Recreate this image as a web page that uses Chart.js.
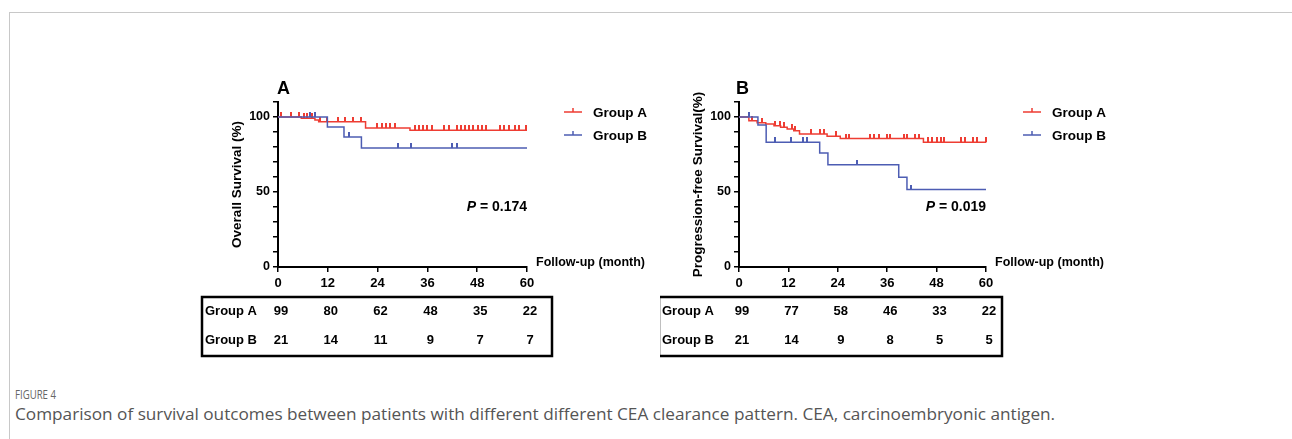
<!DOCTYPE html>
<html lang="en">
<head>
<meta charset="UTF-8" />
<title>Figure 4</title>
<script src="https://cdn.jsdelivr.net/npm/chart.js"></script>
<style>
  * { margin: 0; padding: 0; box-sizing: border-box; }
  body {
    width: 1292px; height: 439px; background: #fff;
    position: relative; overflow: hidden;
    font-family: "Liberation Sans", Arial, sans-serif;
  }
  .frame {
    position: absolute; left: 9px; top: 12px; right: 0; bottom: 0;
    border-top: 1px solid #c8c8c8; border-left: 1px solid #c8c8c8;
  }
  canvas.panel { position: absolute; top: 75px; }
  #panelA { left: 195px; }
  #panelB { left: 660px; }
  .fig-label {
    position: absolute; left: 15px; top: 385px;
    font-family: "Open Sans", sans-serif; font-size: 13px; color: #666;
    transform: scaleX(0.74); transform-origin: left top;
  }
  .caption {
    position: absolute; left: 15px; top: 402px;
    font-family: "Open Sans", sans-serif; font-size: 17.2px; color: #555;
    white-space: nowrap;
  }
</style>
</head>
<body>
<div class="frame"></div>
<canvas id="panelA" class="panel" width="465" height="295"></canvas>
<canvas id="panelB" class="panel" width="465" height="295"></canvas>
<div class="fig-label">FIGURE 4</div>
<div class="caption">Comparison of survival outcomes between patients with different different CEA clearance pattern. CEA, carcinoembryonic antigen.</div>

<script>
// follow-up ticks (months) used for axis and number-at-risk table
const months = [0, 12, 24, 36, 48, 60];
const groups = ["Group A", "Group B"];

// overall survival (panel A): step times and survival %
const osTimeA = [0, 5.6, 8.9, 9.8, 21.1, 31.8, 60];
const osSurvA = [100, 99.2, 98, 96.8, 92.7, 91.1, 91.1];
const osTimeB = [0, 11.9, 15.9, 20.1, 60];
const osSurvB = [100, 93.3, 86.7, 79.3, 79.3];
const osCensorA = [0.8, 3.1, 5.0, 6.2, 7.0, 8.1, 10.1, 11.7, 14.5, 16.1, 18.1, 20.1,
  23.8, 25.0, 26.0, 27.1, 28.2, 32.9, 34.0, 35.0, 36.0, 37.1, 40.0, 41.1, 43.1, 44.0,
  45.1, 46.1, 47.1, 48.1, 49.1, 50.1, 53.5, 54.5, 55.6, 57.2, 58.1, 59.8];
const osCensorB = [7.8, 9.0, 17.1, 29.0, 32.0, 42.0, 43.1];
const osRiskA = [99, 80, 62, 48, 35, 22];
const osRiskB = [21, 14, 11, 9, 7, 7];

// progression-free survival (panel B)
const pfsTimeA = [0, 2.4, 4.4, 6.5, 8.5, 10.1, 11.7, 13.3, 14.7, 21.4, 24.6, 44.8, 60];
const pfsSurvA = [100, 97.5, 96.2, 95.3, 94.2, 93.1, 92, 90.9, 88.7, 87.1, 85.6, 83.1, 83.1];
const pfsTimeB = [0, 4.6, 6.6, 19.6, 21.6, 38.8, 40.8, 60];
const pfsSurvB = [100, 94.7, 83.1, 76, 68.2, 59.8, 51.6, 51.6];
const pfsCensorA = [3.2, 5.7, 8.7, 9.9, 10.9, 12.8, 13.7, 17.5, 19.6, 20.6, 23.5, 26.0,
  26.8, 31.9, 32.7, 33.9, 35.9, 36.8, 40.0, 40.8, 42.8, 43.8, 46.0, 47.0, 48.1, 49.0,
  49.9, 53.9, 54.9, 56.9, 57.9, 60];
const pfsCensorB = [2.4, 8.7, 12.7, 15.6, 16.6, 28.7, 41.8];
const pfsRiskA = [99, 77, 58, 46, 33, 22];
const pfsRiskB = [21, 14, 9, 8, 5, 5];

const RED = "#ee3d33";
const BLUE = "#4d5db3";
const FONT = '"Liberation Sans", Arial, sans-serif';

function toXY(times, surv) {
  return times.map((t, i) => ({ x: t, y: surv[i] }));
}

// survival value at time t
function censorPoints(cens, times, surv) {
  return cens.map(t => {
    let y = surv[0];
    for (let i = 0; i < times.length; i++) if (times[i] <= t) y = surv[i];
    return { x: t, y: y };
  });
}

function tickMark(color) {
  const c = document.createElement("canvas");
  c.width = 2; c.height = 10;
  const g = c.getContext("2d");
  g.fillStyle = color;
  g.fillRect(0, 0, 2, 5);
  return c;
}

function extras(cfg) {
  return {
    id: "panelExtras",
    afterDraw(chart) {
      const ctx = chart.ctx;
      const a = chart.chartArea;
      const xs = chart.scales.x;
      ctx.save();
      ctx.fillStyle = "#000";
      ctx.textBaseline = "middle";

      // panel letter
      ctx.textAlign = "left";
      ctx.font = "bold 18px " + FONT;
      ctx.fillText(cfg.letter, a.left + cfg.letterDx, a.top - 13);

      // legend
      [RED, BLUE].forEach((col, i) => {
        const y = a.top + 10 + i * 23;
        ctx.strokeStyle = col;
        ctx.lineWidth = 1.5;
        ctx.beginPath();
        ctx.moveTo(a.right + 37, y); ctx.lineTo(a.right + 55, y);
        ctx.moveTo(a.right + 46, y); ctx.lineTo(a.right + 46, y - 4);
        ctx.stroke();
        ctx.font = "bold 13.5px " + FONT;
        ctx.fillText(groups[i], a.right + 66, y + 1);
      });

      // P value
      const py = a.top + 105;
      ctx.font = "italic bold 14px " + FONT;
      const pW = ctx.measureText("P").width;
      ctx.font = "bold 14px " + FONT;
      const rest = " = " + cfg.p;
      const rW = ctx.measureText(rest).width;
      const px = a.right - pW - rW;
      ctx.font = "italic bold 14px " + FONT;
      ctx.fillText("P", px, py);
      ctx.font = "bold 14px " + FONT;
      ctx.fillText(rest, px + pW, py);

      // x axis label at end of axis
      ctx.font = "bold 12.5px " + FONT;
      ctx.fillText("Follow-up (month)", a.right + 9, a.bottom - 4);

      // number at risk table
      const top = a.bottom + 30, bot = a.bottom + 89;
      const left = a.left + cfg.boxL, right = a.right + cfg.boxR;
      ctx.strokeStyle = "#000";
      ctx.lineWidth = 2.5;
      ctx.strokeRect(left, top, right - left, bot - top);
      ctx.font = "bold 13px " + FONT;
      [cfg.riskA, cfg.riskB].forEach((row, r) => {
        const y = top + 14 + r * 29;
        ctx.textAlign = "left";
        ctx.fillText(groups[r], left + 3, y);
        ctx.textAlign = "center";
        row.forEach((n, i) => ctx.fillText(String(n), xs.getPixelForValue(months[i]) + 3, y));
      });
      ctx.restore();
    }
  };
}

function makePanel(id, cfg) {
  const lineDs = (data, col) => ({
    data: data, borderColor: col, borderWidth: 1.5, stepped: true,
    pointRadius: 0, fill: false, clip: false
  });
  const censDs = (data, col) => ({
    data: data, showLine: false, pointStyle: tickMark(col),
    pointRadius: 5, clip: false
  });
  new Chart(document.getElementById(id), {
    type: "line",
    data: {
      datasets: [
        lineDs(toXY(cfg.timeB, cfg.survB), BLUE),
        censDs(censorPoints(cfg.censB, cfg.timeB, cfg.survB), BLUE),
        lineDs(toXY(cfg.timeA, cfg.survA), RED),
        censDs(censorPoints(cfg.censA, cfg.timeA, cfg.survA), RED)
      ]
    },
    options: {
      responsive: false,
      animation: false,
      events: [],
      layout: { padding: { left: cfg.padL, right: cfg.padR, top: 27, bottom: 75 } },
      plugins: { legend: { display: false }, tooltip: { enabled: false } },
      scales: {
        x: {
          type: "linear", min: 0, max: 60,
          border: { color: "#000", width: 2 },
          grid: { drawOnChartArea: false, tickLength: 5, color: "#000", lineWidth: 1.5 },
          ticks: {
            stepSize: 12, color: "#000", padding: 4, maxRotation: 0, autoSkip: false,
            font: { family: FONT, size: 13, weight: "bold" }
          },
          afterFit(s) { s.height = 28; }
        },
        y: {
          min: 0, max: 110,
          border: { color: "#000", width: 2 },
          grid: { drawOnChartArea: false, tickLength: 5, color: "#000", lineWidth: 1.5 },
          ticks: {
            stepSize: 10, color: "#000", padding: 3, autoSkip: false,
            font: { family: FONT, size: 12.5, weight: "bold" },
            callback: v => (v % 50 === 0 ? v : "")
          },
          title: {
            display: true, text: cfg.yTitle, color: "#000", padding: 0,
            font: { family: FONT, size: 13.5, weight: "bold" }
          },
          afterFit(s) { s.width = 49; }
        }
      }
    },
    plugins: [extras(cfg)]
  });
}

makePanel("panelA", {
  letter: "A", letterDx: -1, p: "0.174", yTitle: "Overall Survival (%)",
  padL: 34, padR: 133, boxL: -76, boxR: 25,
  timeA: osTimeA, survA: osSurvA, timeB: osTimeB, survB: osSurvB,
  censA: osCensorA, censB: osCensorB, riskA: osRiskA, riskB: osRiskB
});

makePanel("panelB", {
  letter: "B", letterDx: -3, p: "0.019", yTitle: "Progression-free Survival(%)",
  padL: 30, padR: 139, boxL: -80, boxR: 16,
  timeA: pfsTimeA, survA: pfsSurvA, timeB: pfsTimeB, survB: pfsSurvB,
  censA: pfsCensorA, censB: pfsCensorB, riskA: pfsRiskA, riskB: pfsRiskB
});
</script>
</body>
</html>
